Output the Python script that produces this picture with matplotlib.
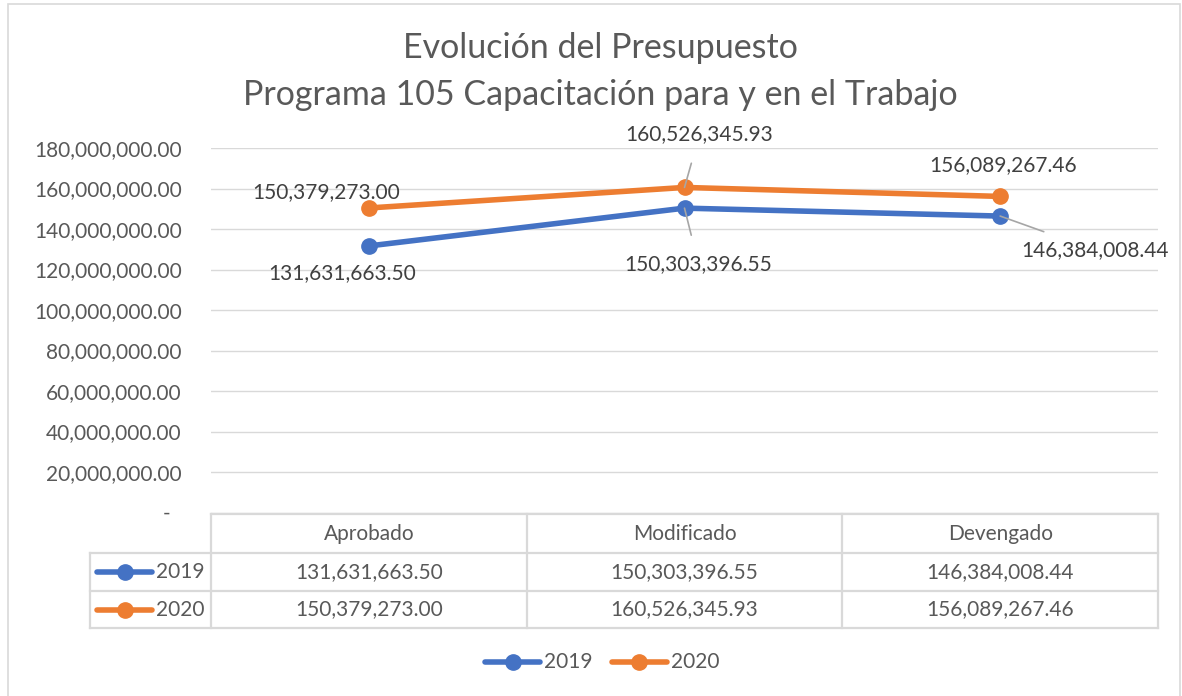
import matplotlib
matplotlib.use("Agg")
import matplotlib.pyplot as plt
from matplotlib.lines import Line2D
from matplotlib.patches import Rectangle
from matplotlib.ticker import FuncFormatter

categories = ["Aprobado", "Modificado", "Devengado"]
series_names = ["2019", "2020"]
values_2019 = [131631663.50, 150303396.55, 146384008.44]
values_2020 = [150379273.00, 160526345.93, 156089267.46]
y_ticks = [0, 20e6, 40e6, 60e6, 80e6, 100e6, 120e6, 140e6, 160e6, 180e6]
title_lines = ["Evolución del Presupuesto", "Programa 105 Capacitación para y en el Trabajo"]

colors = ["#4472C4", "#ED7D31"]
txt = "#595959"
grid_c = "#D9D9D9"
FONT = "Lato"
plt.rcParams["font.family"] = [FONT, "DejaVu Sans"]

W, H = 1182, 696
fig = plt.figure(figsize=(W / 100, H / 100), dpi=100)

def fx(px):
    return px / W

def fy(py):
    return 1 - py / H

# figure border
fig.add_artist(Rectangle((fx(8), fy(700)), fx(1180) - fx(8), fy(4) - fy(700),
                         transform=fig.transFigure, fill=False, ec=grid_c, lw=1.2))

left_px, right_px, top_px, bot_px = 211, 1158, 148, 512.5
ax = fig.add_axes([fx(left_px), fy(bot_px), fx(right_px) - fx(left_px), fy(top_px) - fy(bot_px)])
ax.set_xlim(0, len(categories))
ax.set_ylim(0, 180e6)
ax.set_yticks(y_ticks)
ax.yaxis.set_major_formatter(FuncFormatter(lambda v, p: "-  " if v == 0 else f"{v:,.2f}"))
ax.tick_params(axis="y", length=0, pad=21, labelsize=15, labelcolor=txt)
ax.set_xticks([])
for s in ax.spines.values():
    s.set_visible(False)
ax.grid(axis="y", color=grid_c, lw=1.0)
ax.set_axisbelow(True)

xs = [i + 0.5 for i in range(len(categories))]
all_vals = [values_2019, values_2020]
for vals, c, name in zip(all_vals, colors, series_names):
    ax.plot(xs, vals, color=c, lw=4, marker="o", ms=11, solid_capstyle="round", zorder=3, label=name)

# data labels: (dx, dy) pixel offsets, leader line flag
offsets_2019 = [(-27, -27, False), (14, -56, True), (95, -34, True)]
offsets_2020 = [(-43, 16, False), (15, 53, True), (3, 31, False)]
for vals, offs in zip(all_vals, [offsets_2019, offsets_2020]):
    for x, v, (dx, dy, lead) in zip(xs, vals, offs):
        kw = {}
        if lead:
            kw["arrowprops"] = dict(arrowstyle="-", color="#A6A6A6", lw=1.2, shrinkA=12, shrinkB=0)
        ax.annotate(f"{v:,.2f}", (x, v), xytext=(dx, dy), textcoords="offset pixels",
                    ha="center", va="center", fontsize=15, color="#404040", zorder=4, **kw)

# title
fig.text(fx(600), fy(48), title_lines[0], ha="center", va="center", fontsize=24.5, color=txt)
fig.text(fx(600), fy(95), title_lines[1], ha="center", va="center", fontsize=24.5, color=txt)

# data table
row_edges = [514, 553, 591, 628]
col_px = [left_px + (right_px - left_px) * i / len(categories) for i in range(len(categories) + 1)]
head_left = 90
lkw = dict(color=grid_c, lw=1.6, transform=fig.transFigure)
fig.add_artist(Line2D([fx(left_px), fx(right_px)], [fy(row_edges[0])] * 2, **lkw))
for r in row_edges[1:]:
    fig.add_artist(Line2D([fx(head_left), fx(right_px)], [fy(r)] * 2, **lkw))
for cx in col_px:
    fig.add_artist(Line2D([fx(cx)] * 2, [fy(row_edges[0]), fy(row_edges[-1])], **lkw))
fig.add_artist(Line2D([fx(head_left)] * 2, [fy(row_edges[1]), fy(row_edges[-1])], **lkw))

for i, cat in enumerate(categories):
    cxm = (col_px[i] + col_px[i + 1]) / 2
    fig.text(fx(cxm), fy((row_edges[0] + row_edges[1]) / 2), cat, ha="center", va="center",
             fontsize=15, color=txt)
    for j, vals in enumerate(all_vals):
        fig.text(fx(cxm), fy((row_edges[j + 1] + row_edges[j + 2]) / 2), f"{vals[i]:,.2f}",
                 ha="center", va="center", fontsize=15, color=txt)

def legend_key(x0, yc, c, label):
    fig.add_artist(Line2D([fx(x0), fx(x0 + 55)], [fy(yc)] * 2, color=c, lw=4,
                          solid_capstyle="round", transform=fig.transFigure))
    fig.add_artist(Line2D([fx(x0 + 27.5)], [fy(yc)], color=c, marker="o", ms=11,
                          transform=fig.transFigure))
    fig.text(fx(x0 + 59), fy(yc), label, ha="left", va="center", fontsize=15, color=txt)

for j, (name, c) in enumerate(zip(series_names, colors)):
    legend_key(97, (row_edges[j + 1] + row_edges[j + 2]) / 2, c, name)

# bottom legend
for j, (name, c) in enumerate(zip(series_names, colors)):
    legend_key(485 + 127 * j, 662, c, name)

fig.savefig("out.png", dpi=100)
